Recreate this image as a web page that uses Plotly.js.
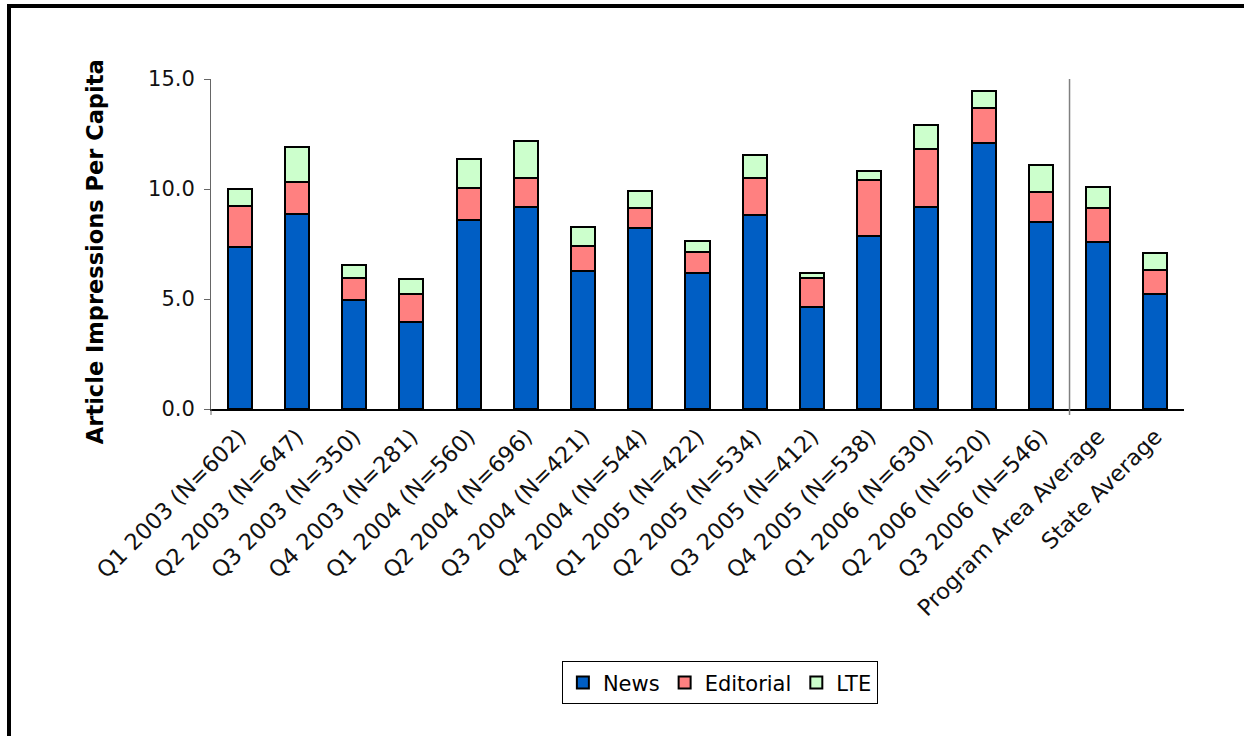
<!DOCTYPE html>
<html>
<head>
<meta charset="utf-8">
<script src="https://cdn.plot.ly/plotly-3.0.1.min.js"></script>
<style>
  html, body { margin: 0; padding: 0; background: #fff; overflow: hidden; }
  #chart { position: absolute; left: 0; top: 0; width: 1244px; height: 736px; }
  #frame { position: absolute; left: 7px; top: 4px; width: 1400px; height: 900px;
           border: 4px solid #000; pointer-events: none; }
</style>
</head>
<body>
<div id="chart"></div>
<div id="frame"></div>
<script>
const categories = [
  "Q1 2003 (N=602)", "Q2 2003 (N=647)", "Q3 2003 (N=350)", "Q4 2003 (N=281)",
  "Q1 2004 (N=560)", "Q2 2004 (N=696)", "Q3 2004 (N=421)", "Q4 2004 (N=544)",
  "Q1 2005 (N=422)", "Q2 2005 (N=534)", "Q3 2005 (N=412)", "Q4 2005 (N=538)",
  "Q1 2006 (N=630)", "Q2 2006 (N=520)", "Q3 2006 (N=546)",
  "Program Area Average", "State Average"
];
const news      = [7.35, 8.88, 4.97, 3.95, 8.61, 9.17, 6.26, 8.24, 6.17, 8.80, 4.62, 7.88, 9.17, 12.08, 8.52, 7.61, 5.24];
const editorial = [1.89, 1.45, 0.98, 1.28, 1.45, 1.35, 1.16, 0.91, 0.98, 1.72, 1.33, 2.53, 2.63, 1.62, 1.36, 1.54, 1.08];
const lte       = [0.77, 1.56, 0.58, 0.66, 1.30, 1.68, 0.87, 0.77, 0.49, 1.03, 0.25, 0.42, 1.11, 0.75, 1.20, 0.94, 0.77];
const seriesNames = ["News", "Editorial", "LTE"];

const FONT = "DejaVu Sans, Verdana, sans-serif";
const colors = ["#005EC4", "#FF8080", "#CCFFCC"];
const seriesData = [news, editorial, lte];

const traces = seriesData.map((vals, i) => ({
  type: "bar",
  name: seriesNames[i],
  x: categories,
  y: vals,
  marker: { color: colors[i], line: { color: "#000", width: 2 } },
  hoverinfo: "x+y+name"
}));

const layout = {
  width: 1244, height: 736,
  barmode: "stack",
  bargap: 0.58,
  paper_bgcolor: "rgba(0,0,0,0)",
  plot_bgcolor: "rgba(0,0,0,0)",
  margin: { l: 211, r: 60, t: 79, b: 327 },
  font: { family: FONT, size: 21, color: "#000" },
  showlegend: true,
  legend: {
    orientation: "h",
    x: 0.523, xanchor: "center",
    y: -0.765, yanchor: "top",
    bordercolor: "#000", borderwidth: 1,
    bgcolor: "#fff",
    font: { family: FONT, size: 21, color: "#000" },
    traceorder: "normal",
    itemwidth: 30,
    tracegroupgap: 0
  },
  xaxis: {
    type: "category",
    tickangle: -45,
    showline: true, linecolor: "#000", linewidth: 1.5,
    ticks: "", showgrid: false, zeroline: false,
    tickfont: { family: FONT, size: 22.5, color: "#111" },
    ticklabelstandoff: 4,
    automargin: false
  },
  yaxis: {
    range: [0, 15],
    dtick: 5, tick0: 0,
    tickformat: ".1f",
    showline: true, linecolor: "#666", linewidth: 1,
    ticks: "outside", ticklen: 6, tickcolor: "#666",
    showgrid: false, zeroline: false,
    tickfont: { family: FONT, size: 21, color: "#111" },
    ticklabelstandoff: 5,
    automargin: false
  },
  shapes: [
    { type: "line", xref: "x", yref: "paper", x0: 14.5, x1: 14.5, y0: -0.018, y1: 1,
      line: { color: "#808080", width: 1.5 } },
    { type: "line", xref: "paper", yref: "paper", x0: 0, x1: 0, y0: -0.018, y1: 0,
      line: { color: "#666", width: 1 } }
  ],
  annotations: [
    { text: "<b>Article Impressions Per Capita</b>", xref: "paper", yref: "paper",
      x: -0.119, y: 0.476, xanchor: "center", yanchor: "middle", textangle: -90,
      showarrow: false, font: { family: FONT, size: 22.5, color: "#000" } }
  ]
};

Plotly.newPlot("chart", traces, layout, { displayModeBar: false, staticPlot: true });
</script>
</body>
</html>
